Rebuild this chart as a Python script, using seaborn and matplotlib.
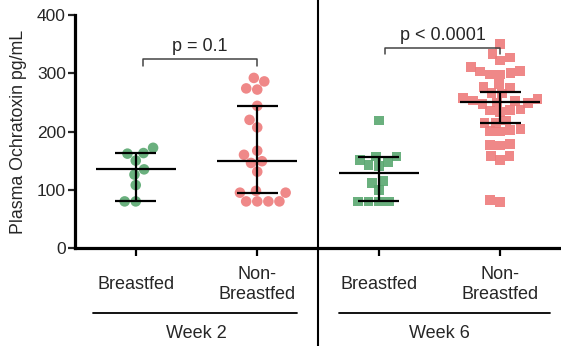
import numpy as np
import pandas as pd
import matplotlib
matplotlib.use("Agg")
import matplotlib.pyplot as plt
import seaborn as sns
from matplotlib.transforms import blended_transform_factory

# ---- data ----
groups = ["W2 Breastfed", "W2 Non-Breastfed", "W6 Breastfed", "W6 Non-Breastfed"]
tick_labels = ["Breastfed", "Non-\nBreastfed", "Breastfed", "Non-\nBreastfed"]
weeks = ["Week 2", "Week 6"]

w2_bf = [172, 163, 162, 150, 135, 126, 108, 80, 80]
w2_nbf = [292, 286, 274, 272, 244, 220, 207, 167, 160, 149, 146, 131,
          98, 95, 95, 80, 80, 80, 80]
w6_bf = [219, 157, 157, 151, 147, 142, 141, 115, 112, 100, 80, 80, 80, 80]
w6_nbf = [350, 333, 327, 322, 311, 304, 303, 300, 298, 298, 281, 276, 275,
          266, 265, 257, 256, 253, 252, 250, 249, 247, 238, 237, 236, 234,
          219, 215, 215, 204, 203, 201, 200, 179, 177, 176, 158, 158, 151,
          83, 79]

centers = [135, 150, 128, 250]
lows = [80, 95, 80, 215]
highs = [163, 243, 157, 267]

p_labels = ["p = 0.1", "p < 0.0001"]
bracket_y = [324, 344]

GREEN = "#5AA870"
RED = "#EE7B7B"

sns.set_style("ticks")
plt.rcParams["font.family"] = ["Liberation Sans", "DejaVu Sans"]

rows = []
for g, vals in zip(groups, [w2_bf, w2_nbf, w6_bf, w6_nbf]):
    for v in vals:
        rows.append({"group": g, "value": v,
                     "week": g[:2], "feed": "NBF" if "Non" in g else "BF"})
df = pd.DataFrame(rows)

fig = plt.figure(figsize=(5.61, 3.46), dpi=100)
ax = fig.add_axes([75 / 561, 98 / 346, 486 / 561, 233 / 346])

pal = {"BF": GREEN, "NBF": RED}
sns.swarmplot(data=df[df.week == "W2"], x="group", y="value", hue="feed",
              order=groups, palette=pal, marker="o", size=7.6, linewidth=0,
              alpha=0.9, legend=False, ax=ax, zorder=2)
sns.swarmplot(data=df[df.week == "W6"], x="group", y="value", hue="feed",
              order=groups, palette=pal, marker="s", size=7.0, linewidth=0,
              alpha=0.9, legend=False, ax=ax, zorder=2)

pos = np.arange(len(groups))
lw = 1.6
ax.hlines(centers, pos - 0.33, pos + 0.33, color="black", lw=lw, zorder=4)
ax.hlines(lows, pos - 0.17, pos + 0.17, color="black", lw=lw, zorder=4)
ax.hlines(highs, pos - 0.17, pos + 0.17, color="black", lw=lw, zorder=4)
ax.vlines(pos, lows, highs, color="black", lw=lw, zorder=4)

ax.set_xlim(-0.5, 3.5)
ax.set_ylim(0, 400)
ax.set_yticks([0, 100, 200, 300, 400])
ax.set_xticks(pos)
ax.set_xticklabels(tick_labels, fontsize=13)
for lbl in ax.get_xticklabels():
    lbl.set_va("center")
ax.tick_params(axis="x", length=5.8, width=1.6, pad=20.5, color="black")
ax.tick_params(axis="y", length=5, width=1.6, pad=1.5, labelsize=12.5)
ax.set_xlabel("")
ax.set_ylabel("Plasma Ochratoxin pg/mL", fontsize=12.8)
ax.yaxis.set_label_coords(-0.099, 0.5)
sns.despine(ax=ax)
for s in ["left", "bottom"]:
    ax.spines[s].set_linewidth(2.3)
    ax.spines[s].set_color("black")

# significance brackets
brackets = [(0.06, 1.0), (2.05, 3.0)]
for (a, b), y, txt in zip(brackets, bracket_y, p_labels):
    ax.plot([a, a, b, b], [y - 11, y, y, y - 11], color="#444444", lw=1.1,
            clip_on=False)
    ax.text((a + b) / 2, y + 7, txt, ha="center", va="bottom", fontsize=13,
            clip_on=False)

# divider and week grouping
bt = blended_transform_factory(ax.transData, fig.transFigure)
ax.plot([1.5, 1.5], [0, 1], transform=bt, color="black", lw=1.5, clip_on=False)
for (a, b), wk, cx in zip([(-0.35, 1.33), (1.67, 3.41)], weeks, [0.5, 2.5]):
    ax.plot([a, b], [0.095, 0.095], transform=bt, color="black", lw=1.3,
            clip_on=False)
    ax.text(cx, 0.037, wk, transform=bt, ha="center", va="center",
            fontsize=13)

fig.savefig("out.png", dpi=100)
